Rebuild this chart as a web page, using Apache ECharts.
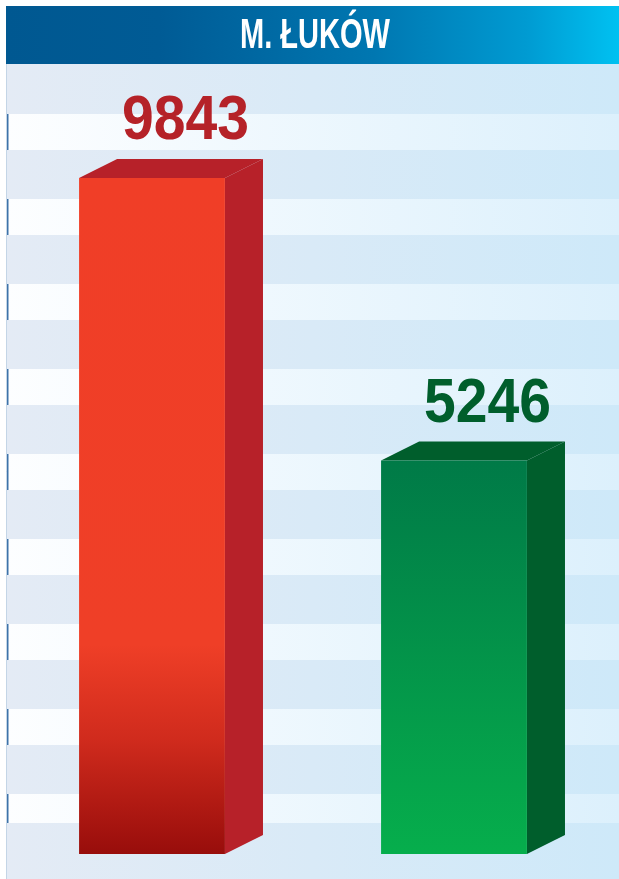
<!DOCTYPE html>
<html>
<head>
<meta charset="utf-8">
<script src="https://cdn.jsdelivr.net/npm/echarts@6/dist/echarts.min.js"></script>
<style>
  html, body { margin: 0; padding: 0; background: #fff; }
  #chart { width: 619px; height: 879px; }
</style>
</head>
<body>
<div id="chart"></div>
<script>
// dane
var titleText = 'M. ŁUKÓW';
var categories = ['A', 'B'];
var values = [9843, 5246];

// zakres osi (ukrytej) - slupki rysowane od dolu siatki
var yMin = -1160;
var yMax = 11700;

var FONT = '"Liberation Sans Narrow", "Liberation Sans", Arial, sans-serif';

// kolory slupkow
var barStyles = [
  {
    front: new echarts.graphic.LinearGradient(0, 0, 0, 1, [
      { offset: 0, color: '#f03e27' },
      { offset: 0.69, color: '#ef3f27' },
      { offset: 0.83, color: '#d02b1d' },
      { offset: 1, color: '#980d0b' }
    ]),
    side: '#b72129',
    label: '#b52228'
  },
  {
    front: new echarts.graphic.LinearGradient(0, 0, 0, 1, [
      { offset: 0, color: '#007a47' },
      { offset: 1, color: '#06ae4c' }
    ]),
    side: '#005e2c',
    label: '#005e2c'
  }
];

// dopasowanie szerokosci waskiego fontu
function fitScale(text, font, target) {
  var ctx = document.createElement('canvas').getContext('2d');
  ctx.font = font;
  return target / ctx.measureText(text).width;
}

var chart = echarts.init(document.getElementById('chart'));

// tlo w paski
var bg = [];
bg.push({
  type: 'rect',
  shape: { x: 6, y: 64, width: 613, height: 815 },
  style: {
    fill: new echarts.graphic.LinearGradient(0, 0, 1, 0, [
      { offset: 0, color: '#e4ebf5' },
      { offset: 1, color: '#cee9f9' }
    ])
  },
  silent: true
});
for (var i = 0; i < 9; i++) {
  var y0 = 114 + i * 85;
  var h = i == 8 ? 29 : 36;
  bg.push({
    type: 'rect',
    shape: { x: 6, y: y0, width: 613, height: h },
    style: {
      fill: new echarts.graphic.LinearGradient(0, 0, 1, 0, [
        { offset: 0, color: '#fdfeff' },
        { offset: 1, color: '#dcf0fc' }
      ])
    },
    silent: true
  });
  bg.push({
    type: 'rect',
    shape: { x: 6.5, y: y0, width: 2, height: h },
    style: { fill: '#3e73a9' },
    silent: true
  });
}
bg.push({
  type: 'line',
  shape: { x1: 6.5, y1: 64, x2: 6.5, y2: 879 },
  style: { stroke: '#c4d5e6', lineWidth: 1 },
  silent: true
});
// pasek tytulu
bg.push({
  type: 'rect',
  shape: { x: 6, y: 6, width: 613, height: 58 },
  style: {
    fill: new echarts.graphic.LinearGradient(0, 0, 1, 0, [
      { offset: 0, color: '#005891' },
      { offset: 0.25, color: '#005b95' },
      { offset: 0.6, color: '#0077b1' },
      { offset: 0.85, color: '#009bd2' },
      { offset: 1, color: '#00c1f1' }
    ])
  },
  silent: true
});
var titleFont = 'bold 42px ' + FONT;
bg.push({
  type: 'text',
  x: 315,
  y: 36,
  scaleX: fitScale(titleText, titleFont, 150),
  style: {
    text: titleText,
    fill: '#ffffff',
    font: titleFont,
    align: 'center',
    verticalAlign: 'middle'
  },
  silent: true
});

function renderBar(params, api) {
  var idx = api.value(0);
  var top = api.coord([idx, api.value(1)]);
  var base = api.coord([idx, yMin]);
  var band = api.size([1, 0])[0];
  var w = band * 0.483;
  var dx = band * 0.126;
  var dy = dx / 2;
  var fl = top[0] - w / 2;
  var fr = top[0] + w / 2;
  var ty = top[1];
  var by = base[1];
  var st = barStyles[idx];
  var labelFont = 'bold 63px ' + FONT;
  var txt = String(values[idx]);
  return {
    type: 'group',
    children: [
      {
        type: 'polygon',
        shape: { points: [[fr, ty], [fr + dx, ty - dy], [fr + dx, by - dy], [fr, by]] },
        style: { fill: st.side }
      },
      {
        type: 'polygon',
        shape: { points: [[fl, ty], [fl + dx, ty - dy], [fr + dx, ty - dy], [fr, ty]] },
        style: { fill: st.side }
      },
      {
        type: 'rect',
        shape: { x: fl, y: ty, width: w, height: by - ty },
        style: { fill: st.front }
      },
      {
        type: 'text',
        x: fl + w * 0.73,
        y: ty - dy - 37,
        scaleX: fitScale(txt, labelFont, 127),
        style: {
          text: txt,
          fill: st.label,
          font: labelFont,
          align: 'center',
          verticalAlign: 'middle'
        }
      }
    ]
  };
}

var seriesData = [];
for (var k = 0; k < categories.length; k++) {
  seriesData.push([k, values[k]]);
}

var option = {
  backgroundColor: '#ffffff',
  animation: false,
  graphic: bg,
  grid: { left: 1, right: 14, top: 64, bottom: 25 },
  xAxis: {
    type: 'category',
    data: categories,
    show: false
  },
  yAxis: {
    type: 'value',
    min: yMin,
    max: yMax,
    show: false
  },
  series: [{
    type: 'custom',
    renderItem: renderBar,
    data: seriesData,
    clip: false
  }]
};
chart.setOption(option);
</script>
</body>
</html>
